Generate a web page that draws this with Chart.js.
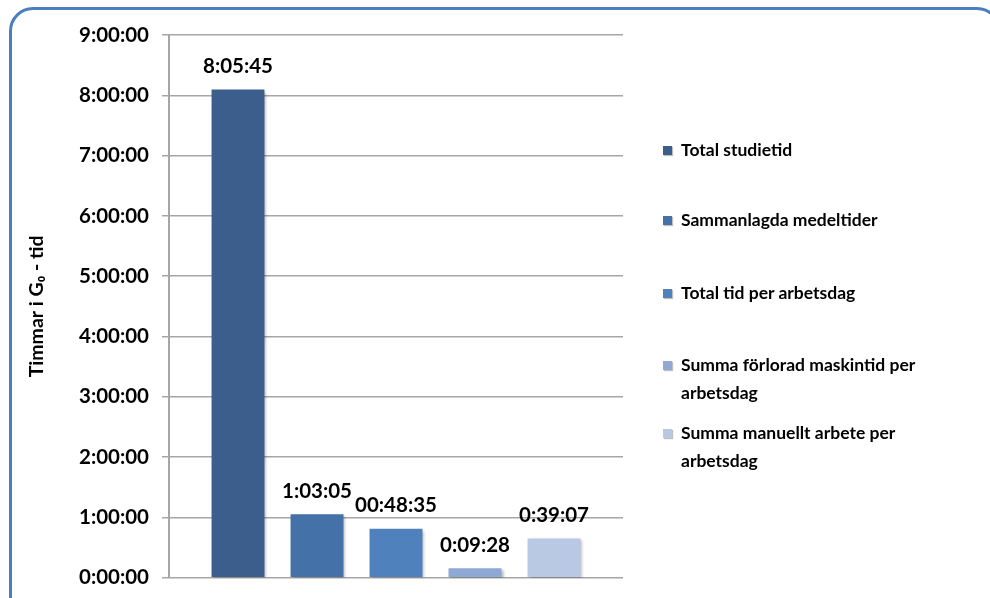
<!DOCTYPE html>
<html>
<head>
<meta charset="utf-8">
<script src="https://cdn.jsdelivr.net/npm/chart.js@4/dist/chart.umd.min.js"></script>
<style>
  html, body { margin: 0; padding: 0; background: #fff; width: 990px; height: 598px; overflow: hidden; }
  #frame {
    position: absolute; left: 9px; top: 7px; width: 992px; height: 640px;
    border: 3px solid #4A7EBF; border-radius: 24px; box-sizing: border-box;
  }
  #chart { position: absolute; left: 0; top: 0; }
  #legend {
    position: absolute; left: 663px; top: 0; width: 310px;
    font-family: Lato, "Liberation Sans", sans-serif; font-weight: bold; font-size: 17.5px; color: #000;
  }
  .item { position: absolute; left: 0; display: flex; align-items: flex-start; width: 310px; line-height: 28px; }
  .swatch { width: 9px; height: 9px; margin-top: 10px; margin-right: 9px; flex: none;
            box-shadow: 1px 1px 1px rgba(0,0,0,0.25); }
  .text { width: 285px; }
</style>
</head>
<body>
<div id="frame"></div>
<canvas id="chart" width="990" height="603"></canvas>
<div id="legend"></div>
<script>
// Series shown as individual bars
const seriesNames = [
  'Total studietid',
  'Sammanlagda medeltider',
  'Total tid per arbetsdag',
  'Summa förlorad maskintid per arbetsdag',
  'Summa manuellt arbete per arbetsdag'
];
// Durations (h:mm:ss) printed above each bar
const durations = ['8:05:45', '1:03:05', '00:48:35', '0:09:28', '0:39:07'];
const barColors = ['#3B5E8C', '#4471A7', '#4F81BD', '#8FA9D4', '#B9C9E3'];
const yAxisTitle = 'Timmar i G₀ - tid';
const yMaxHours = 9;

const toSeconds = s => s.split(':').reduce((acc, p) => acc * 60 + Number(p), 0);
const pad2 = n => String(n).padStart(2, '0');
const fmtTime = sec => `${Math.floor(sec / 3600)}:${pad2(Math.floor((sec % 3600) / 60))}:${pad2(sec % 60)}`;

const FONT = 'Lato, "Liberation Sans", sans-serif';

// Soft drop shadow behind the bars
const barShadow = {
  id: 'barShadow',
  beforeDatasetDraw(chart) {
    const ctx = chart.ctx;
    ctx.save();
    ctx.shadowColor = 'rgba(0,0,0,0.3)';
    ctx.shadowOffsetX = 2;
    ctx.shadowOffsetY = 2;
    ctx.shadowBlur = 3;
  },
  afterDatasetDraw(chart) { chart.ctx.restore(); }
};

// Value labels above bars
const valueLabels = {
  id: 'valueLabels',
  afterDatasetsDraw(chart) {
    const ctx = chart.ctx;
    ctx.save();
    ctx.font = `bold 20.5px ${FONT}`;
    ctx.fillStyle = '#000';
    ctx.textAlign = 'center';
    ctx.textBaseline = 'middle';
    chart.data.datasets.forEach((ds, i) => {
      const bar = chart.getDatasetMeta(i).data[0];
      ctx.fillText(durations[i], bar.x, bar.y - 23);
    });
    ctx.restore();
  }
};

new Chart(document.getElementById('chart'), {
  type: 'bar',
  data: {
    labels: [''],
    datasets: seriesNames.map((name, i) => ({
      label: name,
      data: [toSeconds(durations[i])],
      backgroundColor: barColors[i],
      borderWidth: 0,
      barPercentage: 0.67,
      categoryPercentage: 0.87
    }))
  },
  options: {
    responsive: false,
    devicePixelRatio: 1,
    animation: false,
    layout: { padding: { left: 0, right: 367, top: 35, bottom: 17 } },
    plugins: { legend: { display: false }, tooltip: { enabled: false } },
    scales: {
      x: { display: false },
      y: {
        min: 0,
        max: yMaxHours * 3600,
        afterFit(scale) { scale.width = 169; },
        ticks: {
          stepSize: 3600,
          callback: v => fmtTime(v),
          color: '#000',
          font: { family: FONT, weight: 'bold', size: 20.5 },
          padding: 13
        },
        grid: { color: '#A6A6A6', lineWidth: 1.5, tickLength: 7 },
        border: { color: '#A6A6A6', width: 2 },
        title: {
          display: true,
          text: yAxisTitle,
          color: '#000',
          font: { family: FONT, weight: 'bold', size: 19.5 },
          padding: { top: 25, bottom: 0 }
        }
      }
    }
  },
  plugins: [barShadow, valueLabels]
});

// Legend entries at the right of the plot
const legendTops = [136, 206, 279, 351, 419];
const legend = document.getElementById('legend');
seriesNames.forEach((name, i) => {
  const item = document.createElement('div');
  item.className = 'item';
  item.style.top = legendTops[i] + 'px';
  const sw = document.createElement('span');
  sw.className = 'swatch';
  sw.style.background = barColors[i];
  const tx = document.createElement('span');
  tx.className = 'text';
  tx.textContent = name;
  item.appendChild(sw);
  item.appendChild(tx);
  legend.appendChild(item);
});
</script>
</body>
</html>
